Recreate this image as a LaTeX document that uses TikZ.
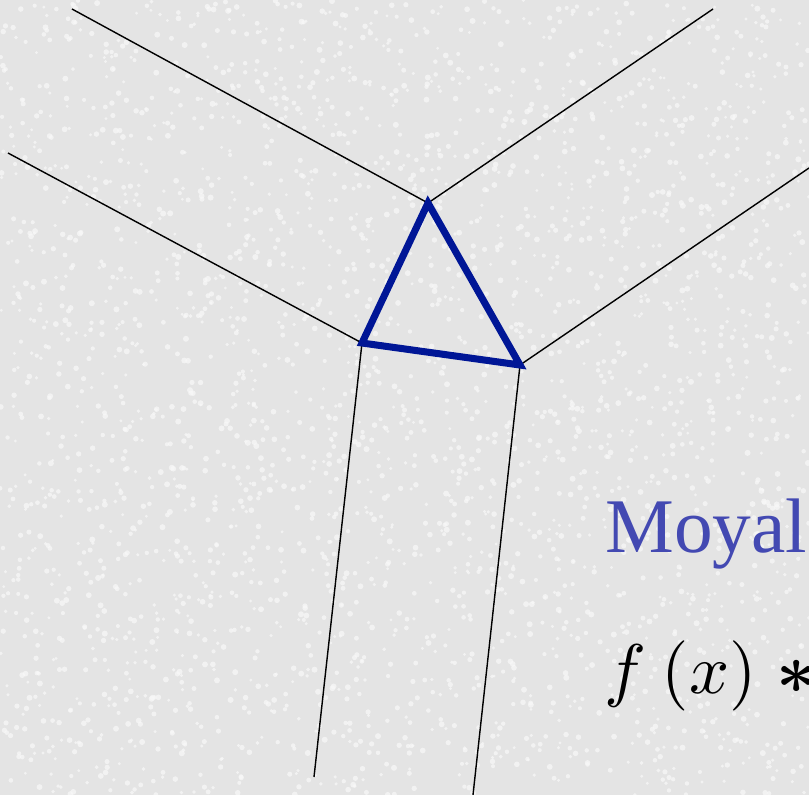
\documentclass[tikz,border=0pt]{standalone}
\usepackage{amsmath}
\usepackage{fontspec}
\setmainfont{Liberation Serif}
\usepackage{tikz}
\usetikzlibrary{positioning, calc}
\definecolor{mybg}{RGB}{228,228,228}
\definecolor{myspeck}{RGB}{248,248,248}
\definecolor{mynavy}{RGB}{0,22,150}
\definecolor{myslate}{RGB}{67,73,178}
\tikzset{
  leg/.style={line width=0.8pt, color=black},
  loopline/.style={line width=4pt, color=mynavy, line join=miter, line cap=rect},
  bigtext/.style={anchor=base west, inner sep=0pt, font=\fontsize{44}{50}\selectfont},
  mathtext/.style={anchor=base west, inner sep=0pt}
}

\begin{document}
\begin{tikzpicture}[x=0.02cm, y=-0.02cm]
  % canvas with a light speckle
  \fill[mybg] (0,0) rectangle (809,795);
  \useasboundingbox (0,0) rectangle (809,795);
  \clip (0,0) rectangle (809,795);
  \pgfmathsetseed{7}
  \foreach \i in {1,...,3000}
    \fill[myspeck, opacity=0.75] (rnd*809, rnd*795) circle (1.5+rnd*1.5);

  % vertices of the triangle
  \coordinate (top) at (428,203);
  \coordinate (lft) at (362,343);
  \coordinate (rgt) at (520,365);
  % free ends of the legs
  \coordinate (tl) at (72,9);
  \coordinate (tr) at (713,9);
  \coordinate (ll) at (8,153);
  \coordinate (rr) at (809,168);
  \coordinate (bl) at (314,777);
  \coordinate (br) at (473,795);

  % legs
  \draw[leg] (tl) -- (top) -- (tr);
  \draw[leg] (ll) -- (lft) -- (bl);
  \draw[leg] (rr) -- (rgt) -- (br);

  % loop
  \draw[loopline] (top) -- (lft) -- (rgt) -- cycle;

  % text
  \node[bigtext, text=myslate] (moyal) at (605,552) {Moyal};
  \node[mathtext] (star) at (604,693) {\scalebox{4}{$f\mkern4mu(x)\mkern5mu\boldsymbol{\ast}$}};
\end{tikzpicture}
\end{document}
